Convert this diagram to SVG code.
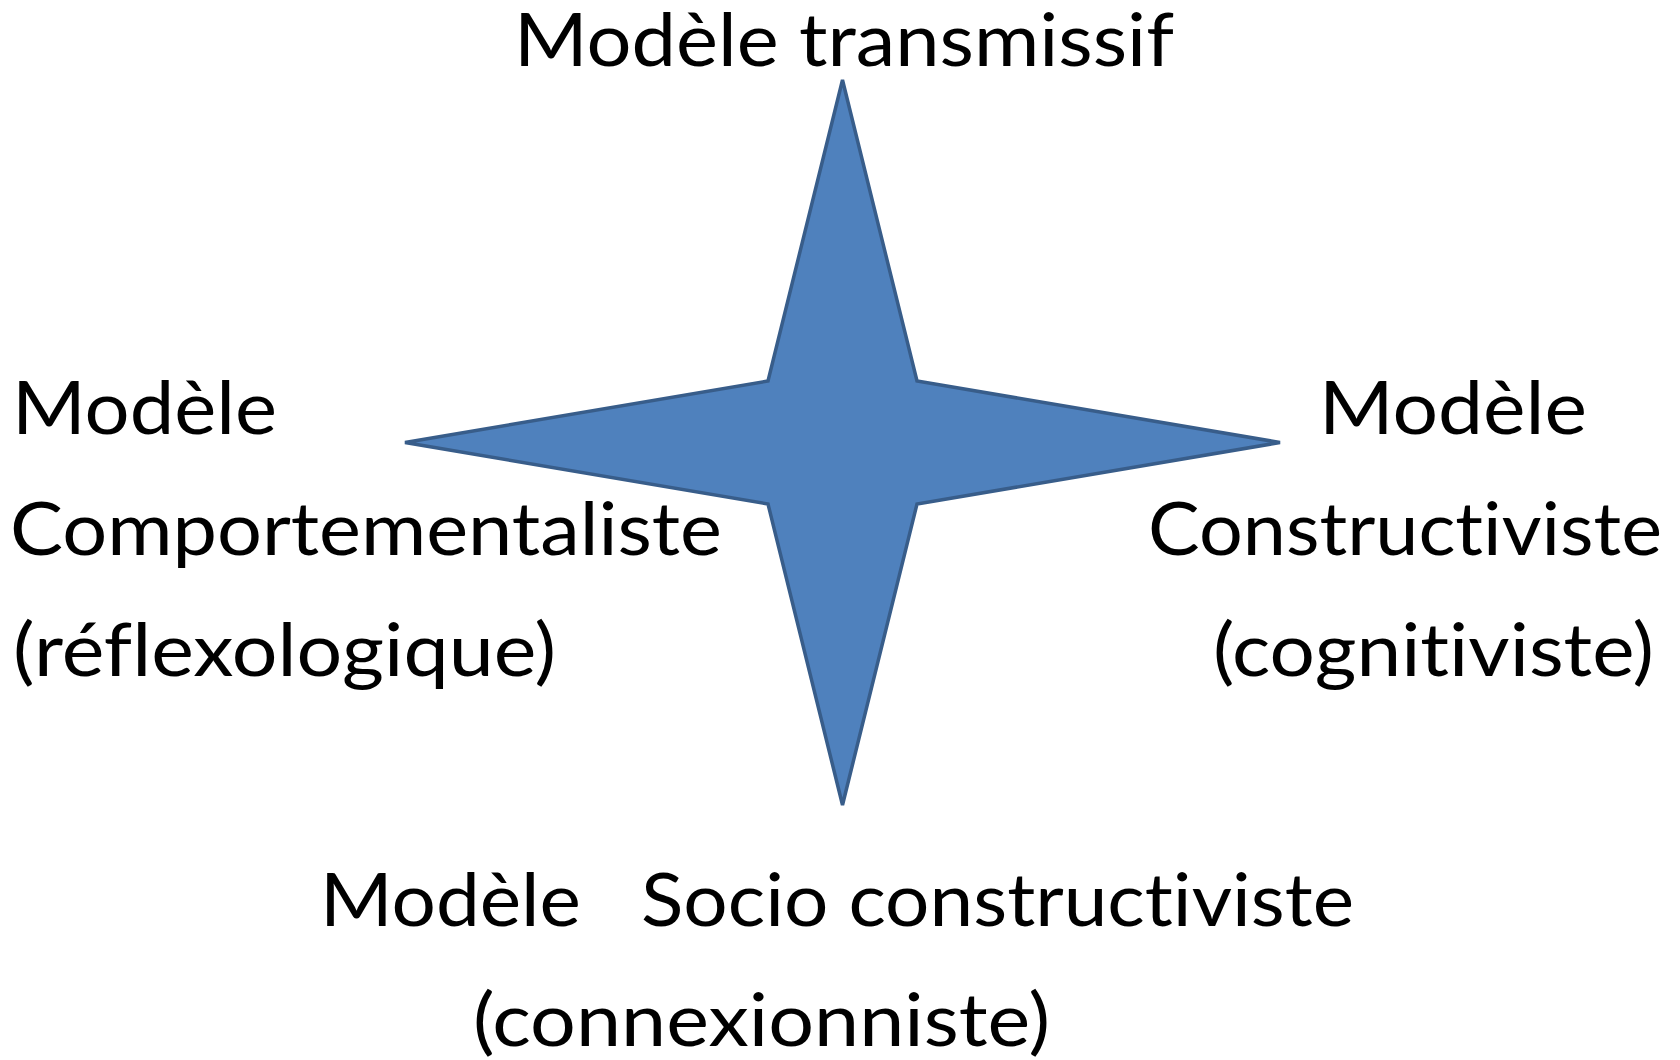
<svg xmlns="http://www.w3.org/2000/svg" width="1680" height="1060" viewBox="0 0 1680 1060">
<style>
.lbl{font-family:Lato,"Open Sans","Liberation Sans",sans-serif;font-size:74px;fill:#000;font-variant-ligatures:none;font-feature-settings:"liga" 0,"dlig" 0}
.star{fill:#4F81BD;stroke:#385D8A;stroke-width:3.5;stroke-linejoin:miter}
</style>
<rect width="1680" height="1060" fill="#fff"/>
<g id="star">
<polygon class="star" points="842.5,80 917,381 1280,442.5 917,504 842.5,805 768,504 405,442.5 768,381"/>
</g>
<g id="connectors"></g>
<g id="top">
<text class="lbl" x="514" y="66" textLength="660" lengthAdjust="spacingAndGlyphs">Modèle transmissif</text>
</g>
<g id="left">
<text class="lbl" x="12" y="434" textLength="265" lengthAdjust="spacingAndGlyphs">Modèle</text>
<text class="lbl" x="10" y="555" textLength="712" lengthAdjust="spacingAndGlyphs">Comportementaliste</text>
<text class="lbl" x="13" y="676" textLength="543" lengthAdjust="spacingAndGlyphs">(réflexologique)</text>
</g>
<g id="right">
<text class="lbl" x="1319" y="434" textLength="268" lengthAdjust="spacingAndGlyphs">Modèle</text>
<text class="lbl" x="1148" y="555" textLength="514" lengthAdjust="spacingAndGlyphs">Constructiviste</text>
<text class="lbl" x="1213" y="676" textLength="441" lengthAdjust="spacingAndGlyphs">(cognitiviste)</text>
</g>
<g id="bottom">
<text class="lbl" x="320" y="926" textLength="1034" lengthAdjust="spacingAndGlyphs" xml:space="preserve">Modèle   Socio constructiviste</text>
<text class="lbl" x="473" y="1046" textLength="577" lengthAdjust="spacingAndGlyphs">(connexionniste)</text>
</g>
</svg>
